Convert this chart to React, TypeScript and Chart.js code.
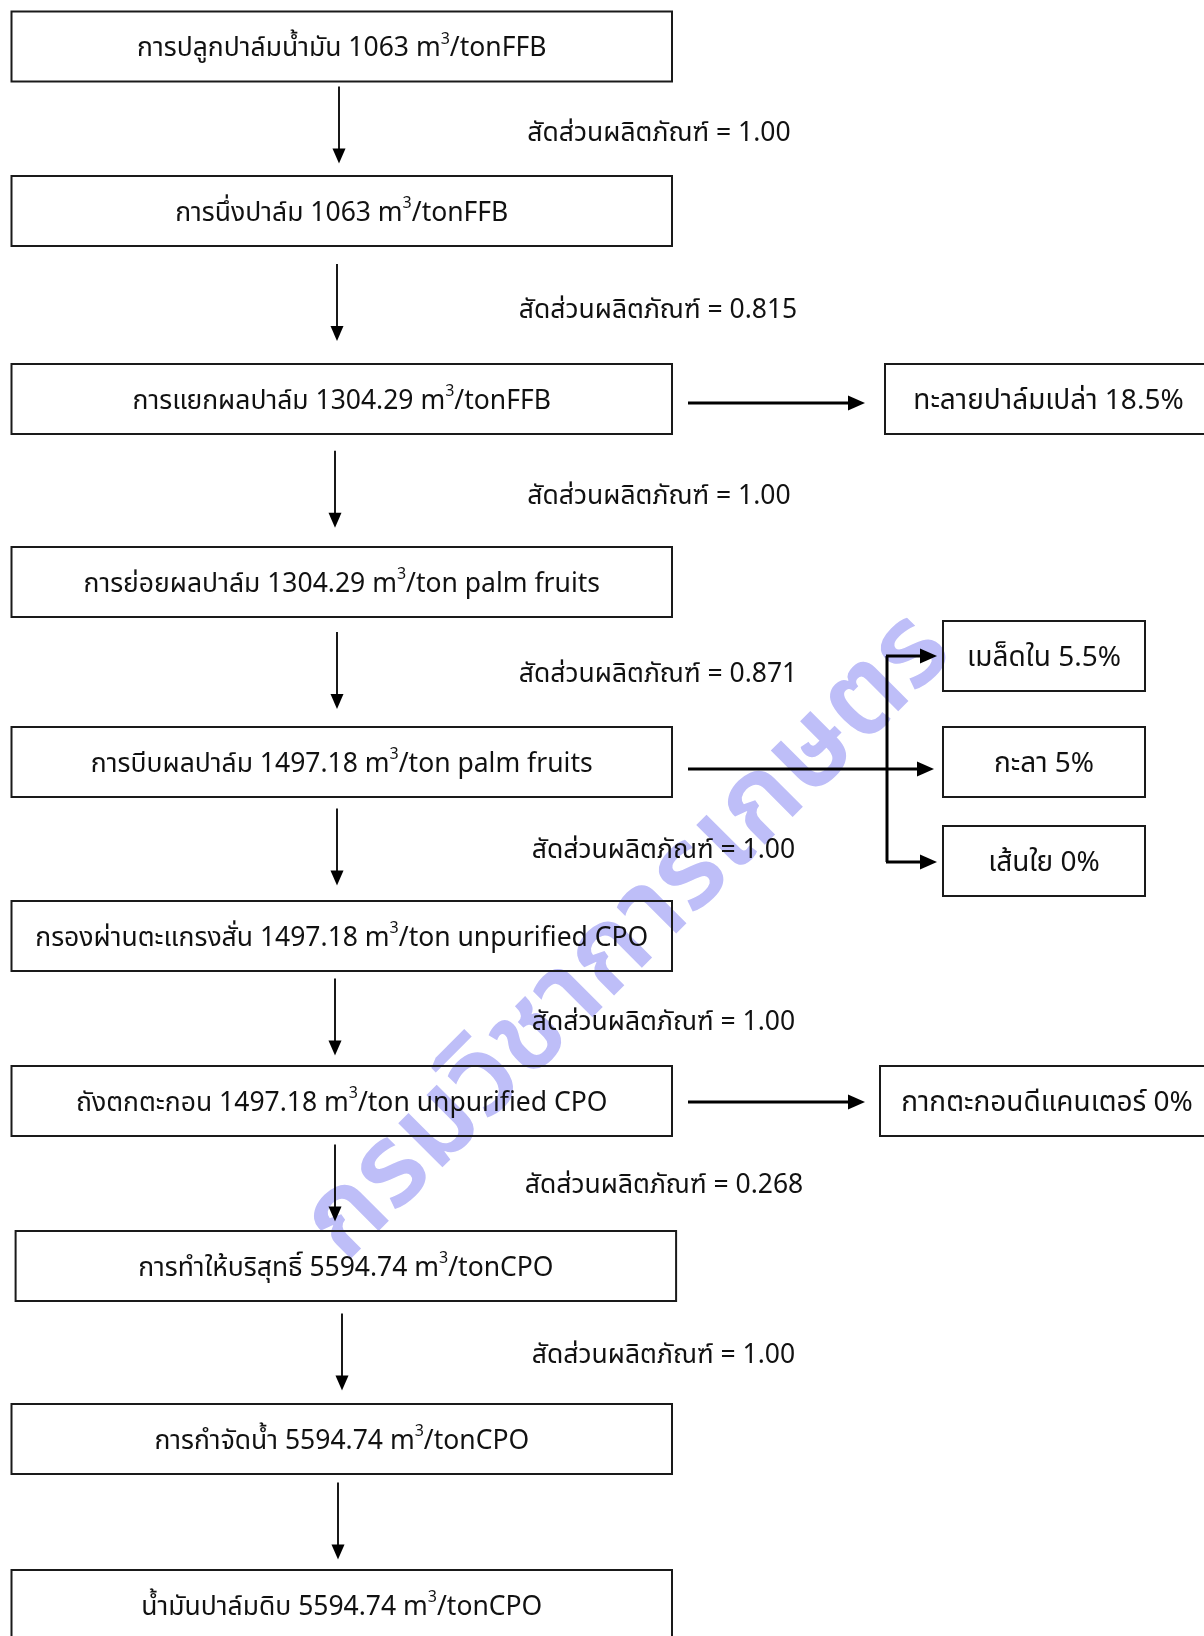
import React, { useEffect, useRef } from "react";
import { Chart, registerables } from "chart.js";

Chart.register(...registerables);

// ---------------- data ----------------
const stepNames = [
  "การปลูกปาล์มน้ำมัน",
  "การนึ่งปาล์ม",
  "การแยกผลปาล์ม",
  "การย่อยผลปาล์ม",
  "การบีบผลปาล์ม",
  "กรองผ่านตะแกรงสั่น",
  "ถังตกตะกอน",
  "การทำให้บริสุทธิ์",
  "การกำจัดน้ำ",
  "น้ำมันปาล์มดิบ",
];
const waterUse = ["1063", "1063", "1304.29", "1304.29", "1497.18", "1497.18", "1497.18", "5594.74", "5594.74", "5594.74"];
const stepUnits = [
  "tonFFB",
  "tonFFB",
  "tonFFB",
  "ton palm fruits",
  "ton palm fruits",
  "ton unpurified CPO",
  "ton unpurified CPO",
  "tonCPO",
  "tonCPO",
  "tonCPO",
];
const ratioLabel = "สัดส่วนผลิตภัณฑ์";
const productRatios = ["1.00", "0.815", "1.00", "0.871", "1.00", "1.00", "0.268", "1.00"];
const byproductNames = ["ทะลายปาล์มเปล่า", "เมล็ดใน", "กะลา", "เส้นใย", "กากตะกอนดีแคนเตอร์"];
const byproductShares = ["18.5%", "5.5%", "5%", "0%", "0%"];
const watermarkText = "กรมวิชาการเกษตร";

// ---------------- layout (page units = px) ----------------
const W = 1204;
const H = 1636;
const BOX_H = 70;
const mainX0 = [11.5, 11.5, 11.5, 11.5, 11.5, 11.5, 11.5, 15.6, 11.5, 11.5];
const MAIN_W = 660.5;
const rowTop = [11.5, 176, 364, 547, 727, 901, 1066, 1231, 1404, 1570];
const arrowX = [339, 337, 335, 337, 337, 335, 335, 342, 338];
const arrowY0 = [86.6, 264, 450.7, 632, 808.6, 978.6, 1144.5, 1313.5, 1482.5];
const ARROW_LEN = 77;
const ratioCx = [659, 658, 659, 658, 663.5, 663.5, 664, 663.5];
const ratioCy = [131, 308, 494, 672, 848, 1020, 1183, 1353];
const sideBoxes = [
  [885, 364, 1212, 434],
  [943, 621, 1145, 691],
  [943, 727, 1145, 797],
  [943, 826, 1145, 896],
  [880, 1066, 1214, 1136],
];
const FONT = '"Noto Sans Thai", "TH Sarabun New", Sarabun, Loma, Garuda, Kinnari, "Noto Sans", sans-serif';

const flowPlugin = {
  id: "flow",
  beforeDraw(chart: any) {
    const { ctx } = chart;
    const sx = chart.scales.x;
    const sy = chart.scales.y;
    ctx.save();
    ctx.fillStyle = "#fff";
    ctx.fillRect(0, 0, chart.width, chart.height);
    ctx.translate(sx.getPixelForValue(634), sy.getPixelForValue(943));
    ctx.rotate((-45 * Math.PI) / 180);
    ctx.font = `600 114px ${FONT}`;
    ctx.fillStyle = "rgb(190,190,248)";
    ctx.textAlign = "center";
    ctx.textBaseline = "middle";
    ctx.fillText(watermarkText, 0, 0);
    ctx.restore();
  },
  afterDraw(chart: any) {
    const { ctx } = chart;
    const sx = chart.scales.x;
    const sy = chart.scales.y;
    const px = (v: number) => sx.getPixelForValue(v);
    const py = (v: number) => sy.getPixelForValue(v);
    const FS = 26.5;
    const DY = 4.5;

    const box = (x0: number, y0: number, x1: number, y1: number) => {
      ctx.save();
      ctx.strokeStyle = "#1a1a1a";
      ctx.lineWidth = 2;
      ctx.strokeRect(px(x0), py(y0), px(x1) - px(x0), py(y1) - py(y0));
      ctx.restore();
    };
    const rich = (parts: { t: string; sup?: boolean }[], cx: number, cy: number, fs: number = FS) => {
      ctx.save();
      ctx.fillStyle = "#111";
      ctx.textBaseline = "middle";
      ctx.textAlign = "left";
      let total = 0;
      const widths = parts.map((p) => {
        ctx.font = `${p.sup ? Math.round(fs * 0.6) : fs}px ${FONT}`;
        const w = ctx.measureText(p.t).width;
        total += w;
        return w;
      });
      let x = px(cx) - total / 2;
      parts.forEach((p, i) => {
        ctx.font = `${p.sup ? Math.round(fs * 0.6) : fs}px ${FONT}`;
        ctx.fillText(p.t, x, py(cy) + DY - (p.sup ? fs * 0.4 : 0));
        x += widths[i];
      });
      ctx.restore();
    };
    const vArrow = (x: number, y0: number, y1: number) => {
      ctx.save();
      ctx.strokeStyle = "#000";
      ctx.fillStyle = "#000";
      ctx.lineWidth = 1.8;
      ctx.beginPath();
      ctx.moveTo(px(x), py(y0));
      ctx.lineTo(px(x), py(y1) - 12);
      ctx.stroke();
      ctx.beginPath();
      ctx.moveTo(px(x), py(y1));
      ctx.lineTo(px(x) - 6.5, py(y1) - 15);
      ctx.lineTo(px(x) + 6.5, py(y1) - 15);
      ctx.closePath();
      ctx.fill();
      ctx.restore();
    };
    const hLine = (x0: number, x1: number, y: number) => {
      ctx.beginPath();
      ctx.moveTo(px(x0), py(y));
      ctx.lineTo(px(x1), py(y));
      ctx.stroke();
    };
    const hHead = (x: number, y: number) => {
      ctx.beginPath();
      ctx.moveTo(px(x), py(y));
      ctx.lineTo(px(x) - 17, py(y) - 7.5);
      ctx.lineTo(px(x) - 17, py(y) + 7.5);
      ctx.closePath();
      ctx.fill();
    };

    // main boxes
    stepNames.forEach((name, i) => {
      const x0 = mainX0[i];
      box(x0, rowTop[i], x0 + MAIN_W, rowTop[i] + BOX_H);
      rich(
        [{ t: `${name} ${waterUse[i]} m` }, { t: "3", sup: true }, { t: `/${stepUnits[i]}` }],
        x0 + MAIN_W / 2,
        rowTop[i] + BOX_H / 2
      );
    });
    // vertical arrows
    arrowX.forEach((x, i) => vArrow(x, arrowY0[i], arrowY0[i] + ARROW_LEN));
    // ratios
    productRatios.forEach((r, i) => rich([{ t: `${ratioLabel} = ${r}` }], ratioCx[i], ratioCy[i]));
    // side boxes
    byproductNames.forEach((n, i) => {
      const [x0, y0, x1, y1] = sideBoxes[i];
      box(x0, y0, x1, y1);
      rich([{ t: `${n} ${byproductShares[i]}` }], (x0 + x1) / 2, (y0 + y1) / 2, 28);
    });
    // horizontal arrows
    ctx.save();
    ctx.strokeStyle = "#000";
    ctx.fillStyle = "#000";
    ctx.lineWidth = 3;
    hLine(688, 850, 403);
    hHead(865, 403);
    hLine(688, 920, 769);
    hHead(934, 769);
    ctx.beginPath();
    ctx.moveTo(px(887), py(656));
    ctx.lineTo(px(887), py(862));
    ctx.stroke();
    hLine(886, 922, 656);
    hHead(937, 656);
    hLine(886, 922, 862);
    hHead(937, 862);
    hLine(688, 850, 1102);
    hHead(865, 1102);
    ctx.restore();
  },
};

export default function App() {
  const ref = useRef<HTMLCanvasElement | null>(null);
  useEffect(() => {
    document.body.style.margin = "0";
    const chart = new Chart(ref.current as HTMLCanvasElement, {
      type: "scatter",
      data: { datasets: [{ data: [], pointRadius: 0 }] },
      options: {
        animation: false,
        responsive: false,
        devicePixelRatio: 1,
        layout: { padding: 0 },
        plugins: { legend: { display: false }, tooltip: { enabled: false } },
        scales: {
          x: { type: "linear", min: 0, max: W, display: false },
          y: { type: "linear", min: 0, max: H, reverse: true, display: false },
        },
      },
      plugins: [flowPlugin],
    });
    return () => chart.destroy();
  }, []);
  return (
    <div style={{ position: "absolute", left: 0, top: 0, width: W, height: H, background: "#fff" }}>
      <canvas ref={ref} width={W} height={H} style={{ display: "block", width: W, height: H }} />
    </div>
  );
}
